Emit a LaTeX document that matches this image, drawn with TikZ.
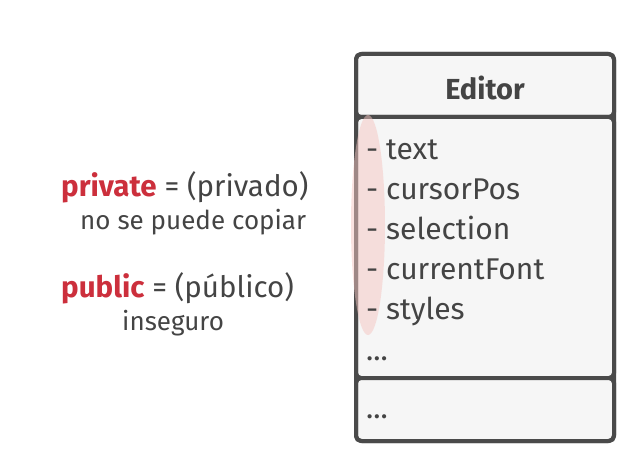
\documentclass[tikz,border=0pt]{standalone}
\usepackage{fontspec}
\setmainfont{Fira Sans}
\definecolor{ink}{HTML}{444444}
\definecolor{frame}{HTML}{4A4A4A}
\definecolor{boxfill}{HTML}{F6F6F6}
\definecolor{accent}{HTML}{CC2F3C}
\definecolor{blush}{HTML}{F5C6C2}
\tikzset{
  sect/.style={draw=frame, fill=boxfill, line width=4pt, rounded corners=5pt},
  attr/.style={anchor=base west, inner sep=0pt, text=ink, font=\fontsize{30}{32}\selectfont},
  lbl/.style={anchor=base west, inner sep=0pt, text=ink, font=\fontsize{29.5}{32}\selectfont},
  sub/.style={anchor=base west, inner sep=0pt, text=ink, font=\fontsize{26}{28}\selectfont},
}
\begin{document}
\begin{tikzpicture}[x=1pt,y=1pt]
\useasboundingbox (0,0) rectangle (640,464);
% box sections
\draw[sect] (356,347) rectangle (614,410);
\draw[sect] (356,86) rectangle (614,347);
\draw[sect] (356,23) rectangle (614,86);
\draw[frame, line width=4pt, rounded corners=6pt] (356,23) rectangle (614,410);
% highlight (under the text, over the frame)
\fill[blush, opacity=0.5] (368,239) ellipse [x radius=17, y radius=110];
\node[anchor=base, inner sep=0pt, text=ink, font=\fontsize{29}{32}\selectfont\bfseries] (title) at (485,364) {Editor};
\node[attr] (a1) at (366,304) {- text};
\node[attr] (a2) at (366,264) {- cursorPos};
\node[attr] (a3) at (366,224) {- selection};
\node[attr] (a4) at (366,184) {- currentFont};
\node[attr] (a5) at (366,144) {- styles};
\node[attr] (a6) at (366,104) {...};
\node[attr] (m1) at (366,46) {...};
% legend
\node[lbl] (priv) at (61,267) {\textcolor{accent}{\bfseries private} = (privado)};
\node[sub] (privd) at (80,234) {no se puede copiar};
\node[lbl] (pub) at (61,167) {\textcolor{accent}{\bfseries public} = (público)};
\node[sub] (pubd) at (122,134) {inseguro};
\end{tikzpicture}
\end{document}
